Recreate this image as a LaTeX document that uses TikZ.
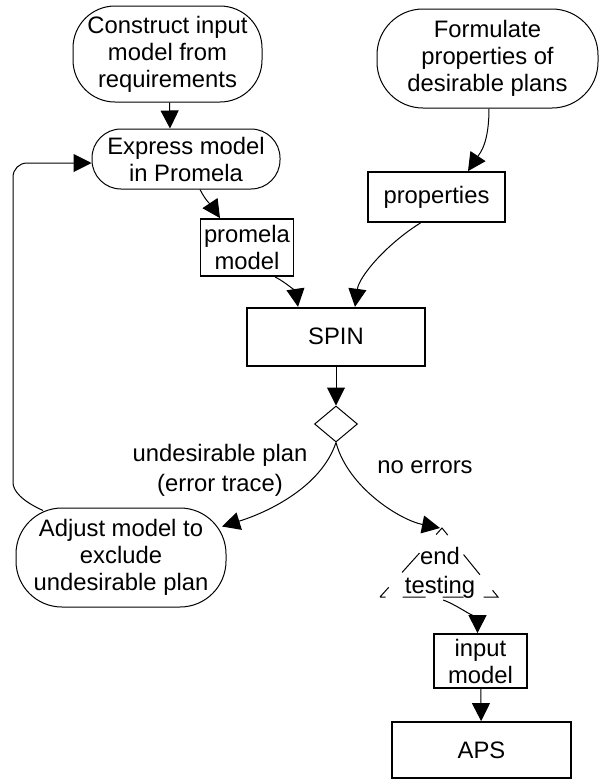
\documentclass[tikz,border=0pt]{standalone}
\usepackage{fontspec}
\setmainfont{Liberation Sans}
\usetikzlibrary{arrows.meta}
\usetikzlibrary{shapes.geometric}

\begin{document}
\begin{tikzpicture}[x=1pt, y=-1pt,
        every node/.style={font=\fontsize{23.8}{27}\selectfont, align=center, inner sep=0pt},
        proc/.style={draw, line width=1pt, rounded corners=#1},
        proc/.default=30pt,
        data/.style={draw, line width=1.8pt},
        flow/.style={line width=1pt, -{Triangle[length=18pt, width=18pt]}}]
        \useasboundingbox (0,0) rectangle (600,780);
        % activities and data
        \node[proc=42pt, minimum width=189pt, minimum height=96pt] (construct) at (167.5,54) {Construct input\\model from\\requirements};
        \node[proc=46pt, minimum width=221pt, minimum height=99pt] (formulate) at (487.5,58.5) {Formulate\\properties of\\desirable plans};
        \node[proc=29pt, minimum width=188pt, minimum height=60pt] (express) at (186,159) {Express model\\in Promela};
        \node[data, minimum width=137pt, minimum height=50pt] (properties) at (436.5,197) {properties};
        \node[data, minimum width=93pt, minimum height=57pt] (promela) at (247,247.5) {promela\\model};
        \node[data, minimum width=178pt, minimum height=58pt] (spin) at (336,336.7) {SPIN};
        \node[diamond, draw, line width=1pt, minimum width=43pt, minimum height=36pt] (choice) at (336,424) {};
        \node[proc=46pt, minimum width=210pt, minimum height=99pt] (adjust) at (121,557.5) {Adjust model to\\exclude\\undesirable plan};
        \node (endtest) at (440,572.5) {end\\[2pt]testing};
        \coordinate (endtop) at (442,528);
        \draw[line width=1pt, dash pattern=on 13pt off 20pt on 26pt off 25pt on 18pt off 25pt on 26pt off 20pt on 23pt off 20pt on 21pt off 17pt on 23pt off 17pt on 10pt]
            (endtop) ++(-62,69) -- (endtop) -- ++(56,69) -- cycle;
        \node[data, minimum width=93pt, minimum height=54pt] (input) at (480.5,661) {input\\model};
        \node[data, minimum width=179pt, minimum height=56pt] (aps) at (481.5,750) {APS};
        % labels on the two outcomes
        \node (undes) at (220,470) {undesirable plan\\[3pt](error trace)};
        \node (noerr) at (425,467) {no errors};
        % connectors
        \draw[flow] ([xshift=2pt]construct.south) -- ([xshift=-16pt]express.north);
        \draw[flow] ([xshift=1.5pt]formulate.south) .. controls +(0,35) and +(12,-18) .. ([xshift=31.5pt]properties.north);
        \draw[flow] ([xshift=14pt]express.south) .. controls +(6,12) and +(-8,-12) .. ([xshift=-27pt]promela.north);
        \draw[flow] ([xshift=28pt]promela.south) .. controls +(12,6) and +(-2,-14) .. ([xshift=-38pt]spin.north);
        \draw[flow] ([xshift=-16pt]properties.south) .. controls +(-35,22) and +(4,-30) .. ([xshift=19pt]spin.north);
        \draw[flow] (spin) -- (choice);
        \draw[flow] (choice.south) .. controls +(-15,45) and +(45,-14) .. ([xshift=101pt,yshift=31pt]adjust.center);
        \draw[flow] (choice.south) .. controls +(12,45) and +(-40,-8) .. ([xshift=-2pt]endtop);
        \draw[flow] ([xshift=1pt,yshift=-72pt]endtop) .. controls +(15,5) and +(0,-12) .. ([xshift=-3pt]input.north);
        \draw[flow] (input) -- (aps);
        \draw[flow, rounded corners=14pt] ([xshift=-78pt,yshift=-3pt]adjust.north) .. controls +(-22,-10) and +(0,22) .. ++(-30,-42) |- ([yshift=-4pt]express.west);
    \end{tikzpicture}
\end{document}
